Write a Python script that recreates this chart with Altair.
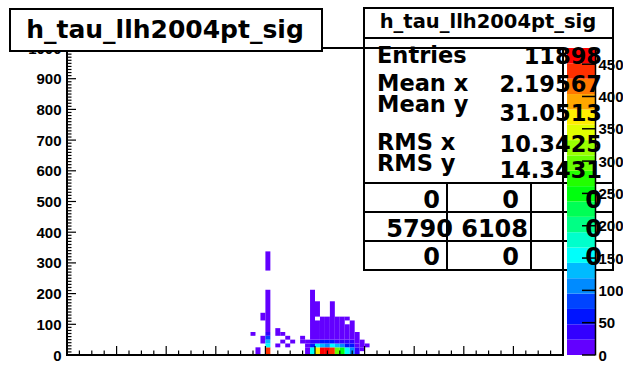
import altair as alt
import pandas as pd

# ---------------- data ----------------
TITLE = "h_tau_llh2004pt_sig"
X_TICKS = [-100, -80, -60, -40, -20, 0, 20, 40, 60, 80, 100]
X_MINOR = [v for v in range(-100, 101, 5) if v % 20]
Y_TICKS = [0, 100, 200, 300, 400, 500, 600, 700, 800, 900, 1000]
Y_MINOR = [v for v in range(0, 1001, 10) if v % 100]
Z_TICKS = [0, 50, 100, 150, 200, 250, 300, 350, 400, 450]
Z_MAX = 475
N_BANDS = 20
XBIN = 2

PALETTE = ["#6300ff", "#3300ff", "#0014ff", "#0044ff", "#008bff",
           "#00bbff", "#00fffb", "#00ffcc", "#00ff85", "#00ff55",
           "#00ff0e", "#22ff00", "#69ff00", "#99ff00", "#e0ff00",
           "#ffee00", "#ffa700", "#ff7700", "#ff3000", "#ff0000"]

# cell runs: x bin start, y start, y end, content
SEG_X = [-26, -24, -22, -22,
         -20, -20, -20, -20, -20, -20, -20,
         -16, -16, -14, -14, -12, -12, -10,
         -6, -6,
         -4, -4, -4,
         -2, -2, -2, -2,
         0, 0, 0, 0, 0,
         2, 2, 2, 2,
         4, 4, 4, 4,
         6, 6, 6, 6,
         8, 8, 8, 8,
         10, 10, 10, 10,
         12, 12, 12, 12, 12,
         14, 14, 14, 14,
         16, 16, 16,
         18, 18,
         20]
SEG_Y0 = [62.5, 0, 37.5, 112.5,
          0, 25, 37.5, 50, 62.5, 75, 275,
          62.5, 25, 62.5, 37.5, 50, 25, 37.5,
          37.5, 50,
          0, 25, 37.5,
          0, 25, 37.5, 50,
          0, 25, 37.5, 50, 125,
          0, 25, 37.5, 50,
          0, 25, 37.5, 50,
          0, 25, 37.5, 50,
          0, 25, 37.5, 50,
          0, 25, 37.5, 50,
          0, 25, 37.5, 50, 112.5,
          0, 25, 37.5, 50,
          0, 25, 37.5,
          12.5, 25,
          25]
SEG_Y1 = [75, 25, 62.5, 137.5,
          25, 37.5, 50, 62.5, 75, 212.5, 337.5,
          87.5, 37.5, 75, 50, 62.5, 37.5, 50,
          50, 62.5,
          25, 37.5, 50,
          25, 37.5, 50, 212.5,
          25, 37.5, 50, 112.5, 175,
          25, 37.5, 50, 125,
          25, 37.5, 50, 125,
          25, 37.5, 50, 175,
          25, 37.5, 50, 125,
          25, 37.5, 50, 125,
          25, 37.5, 50, 100, 125,
          25, 37.5, 50, 112.5,
          25, 37.5, 75,
          25, 50,
          37.5]
SEG_N = [8, 8, 10, 10,
         440, 165, 130, 85, 40, 10, 10,
         10, 10, 10, 10, 10, 10, 10,
         8, 8,
         15, 12, 10,
         160, 60, 30, 10,
         370, 160, 40, 15, 8,
         465, 130, 60, 12,
         460, 110, 55, 12,
         440, 150, 50, 12,
         300, 120, 45, 10,
         250, 100, 40, 10,
         160, 70, 30, 10, 8,
         110, 50, 25, 10,
         30, 15, 10,
         10, 8,
         8]

STAT_NAMES = ["Entries", "Mean x", "Mean y", "RMS x", "RMS y"]
STAT_VALUES = ["11898", "2.19567", "31.0513", "10.3425", "14.3431"]
TABLE = [["0", "0", "0"], ["5790", "6108", "0"], ["0", "0", "0"]]

# ---------------- layout (pixels, relative to plot origin) ----------------
W, H = 496, 307
PAD = {"left": 67, "top": 48, "right": 60, "bottom": 18}
CB_X0, CB_X1 = 500, 528
CB_TICK = 13
TB = dict(x0=-57, x1=255, y0=-39, y1=3, tx=98, ty=-10)
SB = dict(x0=297, x1=546, yt0=-40, yt1=-10, y1=222, tx=421, ty=-20)
TABLE_H = [135, 164, 193]
TABLE_V = [380, 464]
STAT_LX = 310
STAT_VX = 535
STAT_LY = [15, 43, 64, 102, 123]
STAT_VY = [16, 44, 73, 104, 130]
TABLE_X = [[373, 452, 535], [386, 461, 535], [373, 452, 535]]
TABLE_Y = [160, 189, 217]
BIG = "DejaVu Sans"
AXF = "Liberation Sans"

# ---------------- chart ----------------
cells = pd.DataFrame({"x0": SEG_X, "y0": SEG_Y0, "y1": SEG_Y1, "n": SEG_N})
cells["x1"] = cells["x0"] + XBIN

step = Z_MAX / N_BANDS
bands = pd.DataFrame({"lo": [i * step for i in range(N_BANDS)]})
bands["hi"] = bands["lo"] + step
bands["mid"] = bands["lo"] + step / 2

xs = alt.Scale(domain=[-100, 100], nice=False, zero=False)
ys = alt.Scale(domain=[0, 1000], nice=False, zero=False)
zs = alt.Scale(domain=[0, Z_MAX], nice=False, zero=False)
cs = alt.Scale(type="quantize", domain=[0, Z_MAX], range=PALETTE)

one = pd.DataFrame({"a": [0]})

axis_common = dict(ticks=False, domain=False, grid=False, labelFont=AXF, labelFontWeight="bold",
                   labelFontSize=15, labelColor="black", labelFlush=False, labelOverlap=False,
                   title=None, format="d")

heat = alt.Chart(cells).mark_rect().encode(
    x=alt.X("x0:Q", scale=xs, axis=alt.Axis(values=X_TICKS, labelPadding=2, **axis_common)),
    x2="x1:Q",
    y=alt.Y("y0:Q", scale=ys, axis=alt.Axis(values=Y_TICKS, labelPadding=6, **axis_common)),
    y2="y1:Q",
    color=alt.Color("n:Q", scale=cs, legend=None),
)

xt_major = alt.Chart(pd.DataFrame({"v": X_TICKS})).mark_rule(color="black", strokeWidth=1.2).encode(
    x=alt.X("v:Q", scale=xs, axis=None), y=alt.value(H), y2=alt.value(H - 9))
xt_minor = alt.Chart(pd.DataFrame({"v": X_MINOR})).mark_rule(color="black", strokeWidth=1.2).encode(
    x=alt.X("v:Q", scale=xs, axis=None), y=alt.value(H), y2=alt.value(H - 4.5))
yt_major = alt.Chart(pd.DataFrame({"v": Y_TICKS})).mark_rule(color="black", strokeWidth=1.2).encode(
    y=alt.Y("v:Q", scale=ys, axis=None), x=alt.value(0), x2=alt.value(9))
yt_minor = alt.Chart(pd.DataFrame({"v": Y_MINOR})).mark_rule(color="black", strokeWidth=1.2).encode(
    y=alt.Y("v:Q", scale=ys, axis=None), x=alt.value(0), x2=alt.value(4.5))

stat_box = alt.Chart(one).mark_rect(fill="white", stroke="black", strokeWidth=2).encode(
    x=alt.value(SB["x0"]), x2=alt.value(SB["x1"]), y=alt.value(SB["yt1"]), y2=alt.value(SB["y1"]))
stat_tbox = alt.Chart(one).mark_rect(fill="white", stroke="black", strokeWidth=2).encode(
    x=alt.value(SB["x0"]), x2=alt.value(SB["x1"]), y=alt.value(SB["yt0"]), y2=alt.value(SB["yt1"]))
tlines = [alt.Chart(one).mark_rule(color="black", strokeWidth=2).encode(
    x=alt.value(SB["x0"]), x2=alt.value(SB["x1"]), y=alt.value(h)) for h in TABLE_H]
vlines = [alt.Chart(one).mark_rule(color="black", strokeWidth=2).encode(
    x=alt.value(v), y=alt.value(TABLE_H[0]), y2=alt.value(SB["y1"])) for v in TABLE_V]

cbar = alt.Chart(bands).mark_rect().encode(
    x=alt.value(CB_X0), x2=alt.value(CB_X1),
    y=alt.Y("lo:Q", scale=zs, axis=alt.Axis(orient="right", offset=CB_X1 - W, values=Z_TICKS,
                                            ticks=False, domain=True, domainColor="black",
                                            domainWidth=1.5, grid=False, labelFont=AXF,
                                            labelFontWeight="bold", labelFontSize=15,
                                            labelColor="black", labelPadding=3, labelFlush=False,
                                            labelOverlap=False, title=None, zindex=1)),
    y2="hi:Q",
    color=alt.Color("mid:Q", scale=cs, legend=None),
)
cb_ticks = alt.Chart(pd.DataFrame({"z": Z_TICKS})).mark_rule(color="black", strokeWidth=1.5).encode(
    y=alt.Y("z:Q", scale=zs, axis=None), x=alt.value(CB_X1 - CB_TICK), x2=alt.value(CB_X1))

frame = alt.Chart(one).mark_rect(fillOpacity=0, stroke="black", strokeWidth=2).encode(
    x=alt.value(0), x2=alt.value(W), y=alt.value(0), y2=alt.value(H))

title_box = alt.Chart(one).mark_rect(fill="white", stroke="black", strokeWidth=2).encode(
    x=alt.value(TB["x0"]), x2=alt.value(TB["x1"]), y=alt.value(TB["y0"]), y2=alt.value(TB["y1"]))
title_txt = alt.Chart(one).mark_text(font=BIG, fontWeight="bold", fontSize=25, align="center",
                                     baseline="alphabetic", color="black").encode(
    x=alt.value(TB["tx"]), y=alt.value(TB["ty"]), text=alt.value(TITLE))
stitle_txt = alt.Chart(one).mark_text(font=BIG, fontWeight="bold", fontSize=19.5, align="center",
                                      baseline="alphabetic", color="black").encode(
    x=alt.value(SB["tx"]), y=alt.value(SB["ty"]), text=alt.value(TITLE))

texts = []
for name, val, ly, vy in zip(STAT_NAMES, STAT_VALUES, STAT_LY, STAT_VY):
    texts.append(alt.Chart(one).mark_text(font=BIG, fontWeight="bold", fontSize=22.5, align="left",
                                          baseline="alphabetic", color="black").encode(
        x=alt.value(STAT_LX), y=alt.value(ly), text=alt.value(name)))
    texts.append(alt.Chart(one).mark_text(font=BIG, fontWeight="bold", fontSize=22.5, align="right",
                                          baseline="alphabetic", color="black").encode(
        x=alt.value(STAT_VX), y=alt.value(vy), text=alt.value(val)))
for r, row in enumerate(TABLE):
    for c, val in enumerate(row):
        texts.append(alt.Chart(one).mark_text(font=BIG, fontWeight="bold", fontSize=24, align="right",
                                              baseline="alphabetic", color="black").encode(
            x=alt.value(TABLE_X[r][c]), y=alt.value(TABLE_Y[r]), text=alt.value(val)))

layers = [heat, xt_major, xt_minor, yt_major, yt_minor, stat_tbox, stat_box] + tlines + vlines + \
         [cbar, cb_ticks, frame, title_box, title_txt, stitle_txt] + texts

chart = alt.layer(*layers).resolve_scale(y="independent").properties(
    width=W, height=H, padding=PAD, autosize=alt.AutoSizeParams(type="none"),
    background="white",
).configure_view(strokeOpacity=0)

chart.save("out.html", embed_options={"renderer": "svg", "actions": False})
